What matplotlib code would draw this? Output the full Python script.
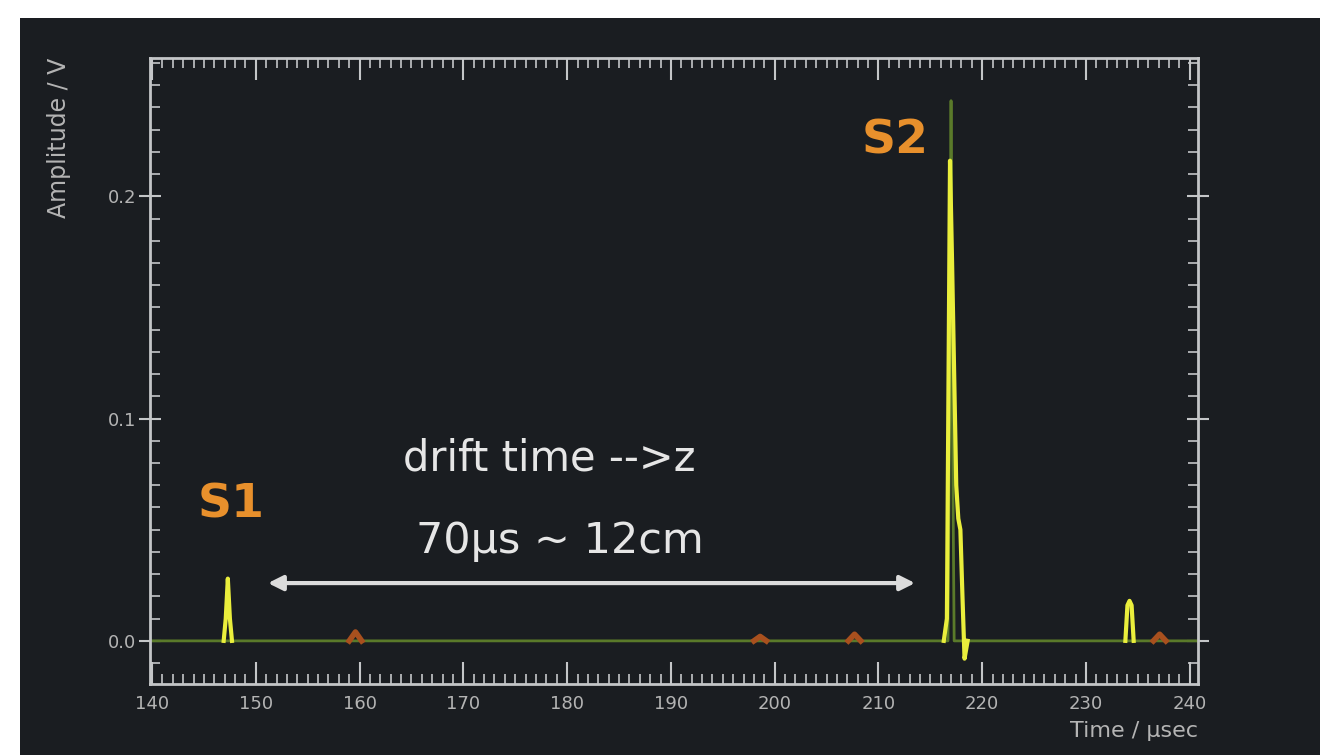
from matplotlib import pyplot as plt
from matplotlib.patches import Rectangle
from matplotlib.ticker import MultipleLocator
import numpy as np

# waveform samples (time in usec, amplitude in V)
# nan = gap, the yellow channel is only visible around the pulses
yellow_t = [146.9, 147.1, 147.3, 147.5, 147.7, np.nan,
            216.3, 216.6, 216.9, 217.1, 217.3, 217.5, 217.7, 217.9, 218.1, 218.3, 218.6, np.nan,
            233.8, 234.0, 234.2, 234.4, 234.6]
yellow_v = [0.0, 0.010, 0.028, 0.010, 0.0, np.nan,
            0.0, 0.01, 0.216, 0.17, 0.12, 0.07, 0.055, 0.05, 0.02, -0.008, 0.0, np.nan,
            0.0, 0.016, 0.018, 0.016, 0.0]
green_t = [140.0, 216.7, 216.9, 217.0, 217.1, 217.3, 240.8]
green_v = [0.0, 0.0, 0.12, 0.243, 0.12, 0.0, 0.0]
orange_t = [159.0, 159.6, 160.2, np.nan, 198.0, 198.6, 199.2, np.nan, 207.1, 207.7, 208.3, np.nan,
            236.5, 237.1, 237.7]
orange_v = [0.0, 0.004, 0.0, np.nan, 0.0, 0.002, 0.0, np.nan, 0.0, 0.003, 0.0, np.nan,
            0.0, 0.003, 0.0]

x_ticks = [140, 150, 160, 170, 180, 190, 200, 210, 220, 230, 240]
y_ticks = [0.0, 0.1, 0.2]

arrow_from = 150.9
arrow_to = 213.8
arrow_y = 0.026

bg = '#1a1d21'
fg = '#c4c6c8'

fig = plt.figure(figsize=(13.2, 7.55), dpi=100, facecolor='white')
fig.patches.append(Rectangle((20 / 1320, 0), 1, 1 - 18 / 755, transform=fig.transFigure,
                             facecolor=bg, edgecolor='none', zorder=-10))

ax = fig.add_axes([150 / 1320, 1 - 684 / 755, 1048 / 1320, 626 / 755])
ax.set_facecolor(bg)
ax.set_xlim(139.8, 240.8)
ax.set_ylim(-0.0194, 0.2622)

ax.plot(green_t, green_v, color='#5a7a2a', lw=2, zorder=2)
ax.plot(orange_t, orange_v, color='#a8501e', lw=4, zorder=3)
ax.plot(yellow_t, yellow_v, color='#eaee3c', lw=3, zorder=4)

ax.annotate('', xy=(arrow_from, arrow_y), xytext=(arrow_to, arrow_y),
            arrowprops=dict(arrowstyle='<|-|>', color='#dcdcdc', lw=3, mutation_scale=22))

ax.text(178.3, 0.082, 'drift time -->z', color='#e6e6e6', fontsize=30, ha='center', va='center')
ax.text(179.3, 0.045, '70μs ~ 12cm', color='#e6e6e6', fontsize=31, ha='center', va='center')
ax.text(147.6, 0.061, 'S1', color='#e8902c', fontsize=34, fontweight='bold', ha='center', va='center')
ax.text(211.6, 0.225, 'S2', color='#e8902c', fontsize=34, fontweight='bold', ha='center', va='center')

for s in ax.spines.values():
    s.set_color(fg)
    s.set_linewidth(2)

ax.xaxis.set_minor_locator(MultipleLocator(1))
ax.yaxis.set_minor_locator(MultipleLocator(0.01))
ax.set_xticks(x_ticks)
ax.set_yticks(y_ticks)
ax.set_yticklabels(['0.0', '0.1', '0.2'])
ax.tick_params(which='major', direction='in', length=16, width=1.5, color=fg,
               labelcolor='#b4b4b4', labelsize=13, top=True, right=True)
ax.tick_params(which='minor', direction='in', length=7, width=1.2, color=fg, top=True, right=True)
ax.tick_params(axis='x', which='major', pad=8)
ax.tick_params(axis='y', which='major', direction='inout', length=16, pad=2)

ax.set_ylabel('Amplitude / V', color='#b4b4b4', fontsize=17, loc='top')
ax.yaxis.set_label_coords(-0.075, 1.0)
ax.set_xlabel('Time / μsec', color='#b4b4b4', fontsize=16, loc='right', labelpad=6)

fig.savefig('out.png', dpi=100, facecolor=fig.get_facecolor())
